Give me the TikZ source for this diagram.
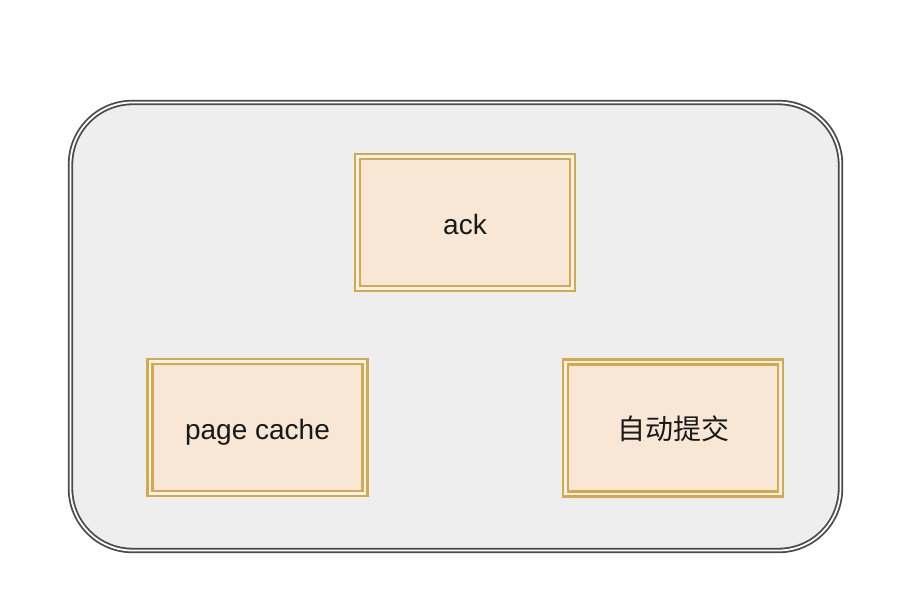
\documentclass[tikz,border=0pt]{standalone}
\usepackage{fontspec}
\setmainfont{Liberation Sans}
\newfontfamily\cjk{Noto Sans CJK SC}
\usetikzlibrary{positioning}
\definecolor{framefill}{HTML}{EEEEEE}
\definecolor{framedraw}{HTML}{4A4A4A}
\definecolor{boxfill}{HTML}{F8E7D4}
\definecolor{boxdraw}{HTML}{D4A84F}

\begin{document}
\begin{tikzpicture}[
    x=1pt, y=1pt,
    frame/.style={
      draw=framedraw,
      line width=1.8pt,
      double=white,
      double distance=1.8pt,
      fill=framefill,
      rounded corners=62pt,
      minimum width=770pt,
      minimum height=448pt
    },
    cachebox/.style={
      draw=boxdraw,
      line width=2.4pt,
      double=boxfill!50!white,
      double distance=2.4pt,
      fill=boxfill,
      minimum width=215pt,
      minimum height=132pt,
      inner sep=0pt,
      text height=24pt,
      text depth=0pt,
      align=center,
      font=\fontsize{28}{34}\selectfont,
      text=black!90
    }
]
\useasboundingbox (0,0) rectangle (910,602);

% Outer container
\node (frame) [frame] at (455.5,275.5) {};

% Top
\node (ack) [cachebox] at (465,379.5) {ack};

% Bottom row
\node (pcache) [cachebox] at (257.5,174.5) {page cache};
\node (autocommit) [cachebox] at (673,174) {\cjk 自动提交};

\end{tikzpicture}
\end{document}
